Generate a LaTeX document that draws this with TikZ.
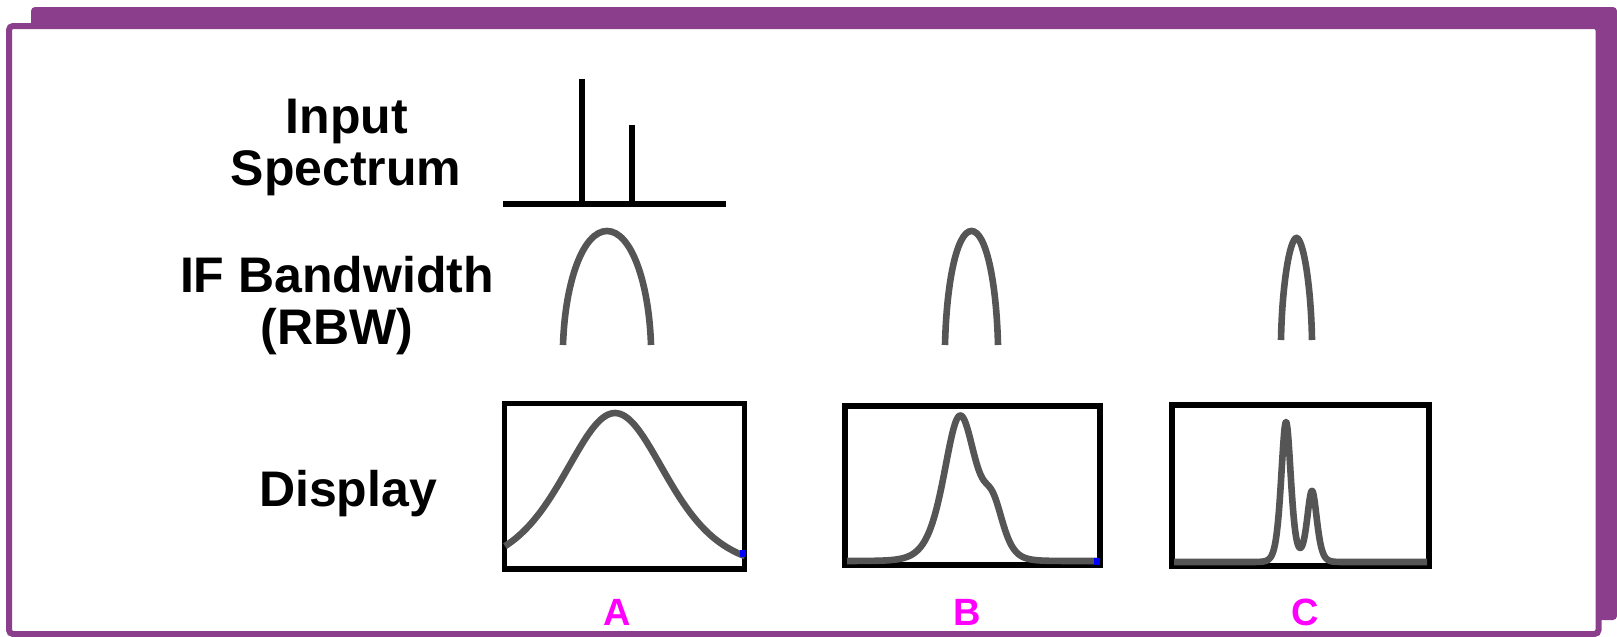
\documentclass[tikz,border=0pt]{standalone}
\usepackage{fontspec}
\setmainfont{Liberation Sans}
\usetikzlibrary{positioning}
\definecolor{framepurple}{RGB}{139,62,140}
\definecolor{tracegray}{RGB}{85,85,85}
\definecolor{tagmagenta}{RGB}{255,0,255}

\begin{document}
\begin{tikzpicture}[
			x=0.5pt, y=-0.5pt,
			lbl/.style={font=\fontsize{25}{26}\selectfont\bfseries, inner sep=0pt, anchor=base},
			tag/.style={font=\fontsize{19}{20}\selectfont\bfseries, text=tagmagenta, inner sep=0pt, anchor=base},
			axis/.style={line width=3pt, black},
			filter/.style={line width=3.3pt, tracegray},
			trace/.style={line width=3.3pt, tracegray, line join=round},
			screen/.style={draw, line width=2.8pt, inner sep=0pt}
			]
			\useasboundingbox (0,0) rectangle (1617,637);
			
			% ---------------- FRAME ----------------
			\fill[framepurple, rounded corners=2pt] (31,7) rectangle (1617,620);
			\draw[framepurple, fill=white, line width=3pt, rounded corners=2pt] (9,26) rectangle (1598.5,634);
			
			% ---------------- ROW LABELS ----------------
			\node[lbl] (input) at (347,133) {Input};
			\node[lbl] (spectrum) at (346,185) {Spectrum};
			\node[lbl] (ifbw) at (337,292) {IF Bandwidth};
			\node[lbl] (rbw) at (337,344) {(RBW)};
			\node[lbl] (display) at (348,506) {Display};
			
			% ---------------- INPUT SPECTRUM ----------------
			\draw[axis] (503,204) -- (726,204);
			\draw[axis] (582,204) -- (582,79);
			\draw[axis] (632,204) -- (632,125);
			
			% ---------------- IF FILTERS ----------------
			\draw[filter] (563,345) .. controls (565,282) and (583,231) .. (607,231)
			.. controls (631,231) and (649,282) .. (651,345);
			\draw[filter] (945,345) .. controls (946.5,282) and (957,231) .. (971.5,231)
			.. controls (986,231) and (996.5,282) .. (998,345);
			\draw[filter] (1281,340) .. controls (1282,284) and (1290,238) .. (1296.5,238)
			.. controls (1303,238) and (1311,284) .. (1312,340);
			
			% ---------------- DISPLAYS ----------------
			\node[screen, minimum width=120pt, minimum height=82.75pt] (scrA) at (624.5,486.25) {};
			\node[screen, minimum width=127.5pt, minimum height=79.5pt] (scrB) at (972.5,485.5) {};
			\node[screen, minimum width=128.5pt, minimum height=80.5pt] (scrC) at (1300.5,485.5) {};
			
			\draw[trace] plot[domain=505:745, samples=121] (\x, {570-157*(1/cosh((\x-615)/69))^2});
			\draw[trace] (847,561) -- plot[domain=870:1098, samples=230]
			(\x, {561-144*(1/cosh((\x-960)/21.5))^2-44*(1/cosh((\x-993)/14))^2});
			\draw[trace] (1174,562) -- plot[domain=1252:1345, samples=187]
			(\x, {562-140*(1/cosh((\x-1286)/6.5))^2-71*(1/cosh((\x-1312)/6.5))^2}) -- (1427,562);
			
			\fill[blue] (740,550) rectangle (746,557);
			\fill[blue] (1094,558) rectangle (1100,565);
			
			\node[tag] (tagA) at (617,625) {A};
			\node[tag] (tagB) at (967,625) {B};
			\node[tag] (tagC) at (1305,625) {C};
			
		\end{tikzpicture}
\end{document}
